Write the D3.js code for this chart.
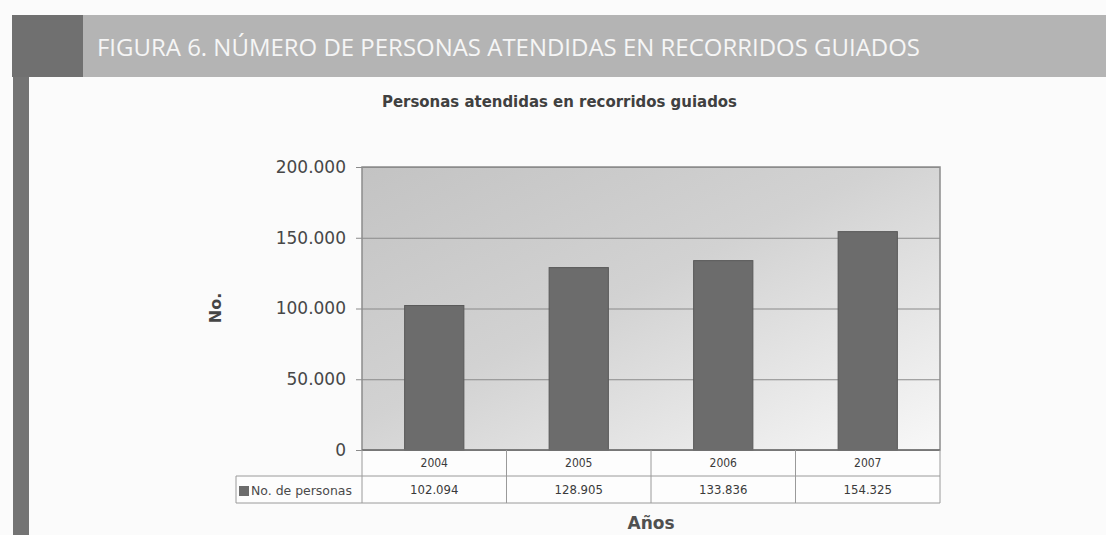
<!DOCTYPE html>
<html>
<head>
<meta charset="utf-8">
<script src="https://cdn.jsdelivr.net/npm/d3@7"></script>
<style>
  body { margin: 0; background: #fbfbfb; }
  svg { display: block; }
</style>
</head>
<body>
<svg id="chart" width="1106" height="535"></svg>
<script>
// data
var years = ["2004", "2005", "2006", "2007"];
var personas = [102094, 128905, 133836, 154325];
var valueLabels = ["102.094", "128.905", "133.836", "154.325"];
var yTicks = [0, 50000, 100000, 150000, 200000];

var svg, x, xCell, y;
var plotLeft = 362, plotRight = 940, plotTop = 167, plotBottom = 450;

var fmt = d3.formatLocale({ decimal: ",", thousands: ".", grouping: [3], currency: ["", ""] }).format(",.0f");

drawFrame();
drawPlot();
drawTable();

function drawFrame() {
  svg = d3.select("#chart");

  // banner + left strip
  svg.append("rect").attr("x", 83).attr("y", 15).attr("width", 1106 - 83).attr("height", 62).attr("fill", "#b4b4b4");
  svg.append("rect").attr("x", 12).attr("y", 15).attr("width", 71).attr("height", 62).attr("fill", "#707070");
  svg.append("rect").attr("x", 13).attr("y", 77).attr("width", 16).attr("height", 535 - 77).attr("fill", "#747474");

  svg.append("text")
    .attr("x", 97).attr("y", 56)
    .attr("textLength", 823).attr("lengthAdjust", "spacingAndGlyphs")
    .style("font-family", "'Open Sans', sans-serif")
    .style("font-size", "23px")
    .attr("fill", "#f6f6f6")
    .text("FIGURA 6. NÚMERO DE PERSONAS ATENDIDAS EN RECORRIDOS GUIADOS");

  svg.append("text")
    .attr("x", 382).attr("y", 107)
    .attr("textLength", 355).attr("lengthAdjust", "spacingAndGlyphs")
    .style("font-family", "'DejaVu Sans', sans-serif")
    .style("font-size", "16px").style("font-weight", "bold")
    .attr("fill", "#404040")
    .text("Personas atendidas en recorridos guiados");
}

function drawPlot() {
  x = d3.scaleBand().domain(years).range([plotLeft, plotRight]).paddingInner(0.59).paddingOuter(0.295);
  y = d3.scaleLinear().domain([0, 200000]).range([plotBottom, plotTop]);

  var defs = svg.append("defs");
  var grad = defs.append("linearGradient").attr("id", "bg")
    .attr("x1", "0").attr("y1", "0").attr("x2", "1").attr("y2", "1");
  grad.append("stop").attr("offset", "0%").attr("stop-color", "#c3c3c3");
  grad.append("stop").attr("offset", "45%").attr("stop-color", "#d2d2d2");
  grad.append("stop").attr("offset", "100%").attr("stop-color", "#f8f8f8");

  svg.append("rect")
    .attr("x", plotLeft).attr("y", plotTop)
    .attr("width", plotRight - plotLeft).attr("height", plotBottom - plotTop)
    .attr("fill", "url(#bg)");

  // grid lines + tick labels
  var ax = svg.append("g")
    .attr("transform", "translate(" + (plotLeft - 6) + ",0)")
    .call(d3.axisLeft(y).tickValues(yTicks).tickSizeInner(0).tickSizeOuter(0).tickPadding(10)
      .tickFormat(function(d) { return fmt(d); }));
  ax.select(".domain").remove();
  ax.selectAll(".tick line")
    .attr("x1", 0).attr("x2", plotRight - plotLeft + 6)
    .attr("stroke", "#8a8a8a").attr("stroke-width", 1.2);
  ax.selectAll(".tick text")
    .style("font-family", "'DejaVu Sans', sans-serif")
    .style("font-size", "17px")
    .attr("fill", "#474747");

  // border
  svg.append("rect")
    .attr("x", plotLeft).attr("y", plotTop)
    .attr("width", plotRight - plotLeft).attr("height", plotBottom - plotTop)
    .attr("fill", "none").attr("stroke", "#8c8c8c").attr("stroke-width", 1.5);

  svg.selectAll(".bar")
    .data(personas)
    .enter().append("rect")
    .attr("class", "bar")
    .attr("x", function(d, i) { return x(years[i]); })
    .attr("width", x.bandwidth())
    .attr("y", function(d) { return y(d); })
    .attr("height", function(d) { return y(0) - y(d); })
    .attr("fill", "#6c6c6c")
    .attr("stroke", "#585858").attr("stroke-width", 1);

  svg.append("line")
    .attr("x1", plotLeft).attr("x2", plotRight).attr("y1", y(0)).attr("y2", y(0))
    .attr("stroke", "#707070").attr("stroke-width", 1.5);

  svg.append("text")
    .attr("transform", "translate(221,308) rotate(-90)")
    .attr("text-anchor", "middle")
    .style("font-family", "'DejaVu Sans', sans-serif")
    .style("font-size", "16px").style("font-weight", "bold")
    .attr("fill", "#454545")
    .text("No.");
}

function drawTable() {
  xCell = d3.scaleBand().domain(years).range([plotLeft, plotRight]);
  var rowTop = plotBottom, rowMid = 476, rowBot = 503, legLeft = 236;
  var g = svg.append("g");
  var lineColor = "#9a9a9a";

  g.append("rect").attr("x", legLeft).attr("y", rowMid).attr("width", plotRight - legLeft).attr("height", rowBot - rowMid)
    .attr("fill", "#fdfdfd");
  g.append("rect").attr("x", plotLeft).attr("y", rowTop + 1).attr("width", plotRight - plotLeft).attr("height", rowMid - rowTop - 1)
    .attr("fill", "#fdfdfd");

  // horizontal lines
  g.append("line").attr("x1", legLeft).attr("x2", plotRight).attr("y1", rowMid).attr("y2", rowMid).attr("stroke", lineColor);
  g.append("line").attr("x1", legLeft).attr("x2", plotRight).attr("y1", rowBot).attr("y2", rowBot).attr("stroke", lineColor);
  g.append("line").attr("x1", legLeft).attr("x2", legLeft).attr("y1", rowMid).attr("y2", rowBot).attr("stroke", lineColor);

  // column dividers
  g.selectAll(".col")
    .data(years)
    .enter().append("line")
    .attr("x1", function(d) { return xCell(d); })
    .attr("x2", function(d) { return xCell(d); })
    .attr("y1", rowTop).attr("y2", rowBot)
    .attr("stroke", lineColor);
  g.append("line").attr("x1", plotRight).attr("x2", plotRight).attr("y1", rowTop).attr("y2", rowBot).attr("stroke", lineColor);

  g.selectAll(".yr")
    .data(years)
    .enter().append("text")
    .attr("x", function(d) { return xCell(d) + xCell.bandwidth() / 2; })
    .attr("y", 467)
    .attr("text-anchor", "middle")
    .style("font-family", "'DejaVu Sans Condensed', 'DejaVu Sans', sans-serif")
    .style("font-size", "12px")
    .attr("fill", "#3a3a3a")
    .text(function(d) { return d; });

  g.selectAll(".val")
    .data(valueLabels)
    .enter().append("text")
    .attr("x", function(d, i) { return xCell(years[i]) + xCell.bandwidth() / 2; })
    .attr("y", 494)
    .attr("text-anchor", "middle")
    .style("font-family", "'DejaVu Sans Condensed', 'DejaVu Sans', sans-serif")
    .style("font-size", "13px")
    .attr("fill", "#3a3a3a")
    .text(function(d) { return d; });

  g.append("rect").attr("x", 239).attr("y", 486).attr("width", 10).attr("height", 10).attr("fill", "#6c6c6c");
  g.append("text")
    .attr("x", 251).attr("y", 495)
    .attr("textLength", 101).attr("lengthAdjust", "spacingAndGlyphs")
    .style("font-family", "'DejaVu Sans', sans-serif")
    .style("font-size", "12.5px")
    .attr("fill", "#4a4a4a")
    .text("No. de personas");

  svg.append("text")
    .attr("x", (plotLeft + plotRight) / 2).attr("y", 529)
    .attr("text-anchor", "middle")
    .style("font-family", "'DejaVu Sans', sans-serif")
    .style("font-size", "17px").style("font-weight", "bold")
    .attr("fill", "#505050")
    .text("Años");
}
</script>
</body>
</html>
